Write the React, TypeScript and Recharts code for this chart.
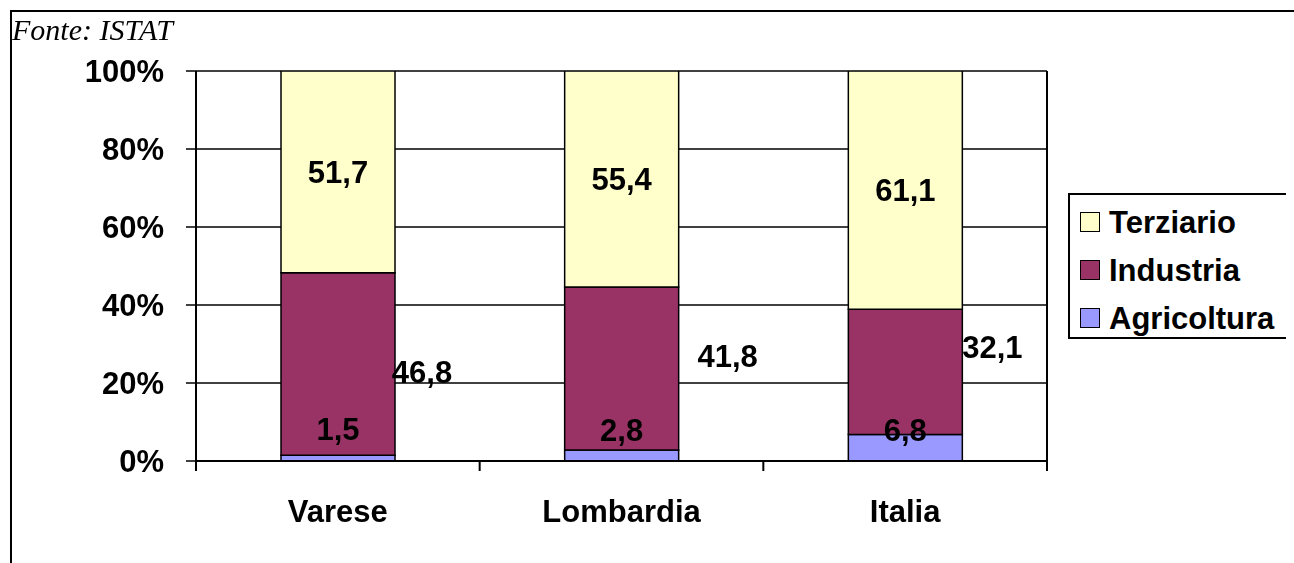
import React from 'react';
import {
  BarChart,
  Bar,
  XAxis,
  YAxis,
  CartesianGrid,
  LabelList,
} from 'recharts';

const categories = ['Varese', 'Lombardia', 'Italia'];
const agricoltura = [1.5, 2.8, 6.8];
const industria = [46.8, 41.8, 32.1];
const terziario = [51.7, 55.4, 61.1];
const yTicks = [0, 20, 40, 60, 80, 100];

const series = [
  { key: 'agricoltura', name: 'Agricoltura', color: '#9999FF' },
  { key: 'industria', name: 'Industria', color: '#993366' },
  { key: 'terziario', name: 'Terziario', color: '#FFFFCC' },
];

const data = categories.map((name, i) => ({
  name,
  agricoltura: agricoltura[i],
  industria: industria[i],
  terziario: terziario[i],
}));

const FONT = "'Liberation Sans', Arial, sans-serif";
const FONT_SIZE = 31;

// label nudges (dx, dy) from the centre of each segment, per category
const labelShift: Record<string, [number, number][]> = {
  agricoltura: [[0, -29], [0, -26], [0, -18]],
  industria: [[84, 8], [106, -13], [87, -25]],
  terziario: [[0, 0], [0, 0], [0, 0]],
};

const fmt = (v: number) => v.toFixed(1).replace('.', ',');

const segmentLabel = (key: string) => (props: any) => {
  const { x, y, width, height, value, index } = props;
  const [dx, dy] = labelShift[key][index] || [0, 0];
  const cx = Number(x) + Number(width) / 2 + dx;
  const cy = Number(y) + Number(height) / 2 + dy;
  return (
    <text
      x={cx}
      y={cy + FONT_SIZE * 0.358}
      textAnchor="middle"
      fontFamily={FONT}
      fontSize={FONT_SIZE}
      fontWeight="bold"
      fill="#000"
    >
      {fmt(Number(value))}
    </text>
  );
};

// category label plus the boundary tick marks between categories
const CategoryTick = (props: any) => {
  const { x, y, payload, index } = props;
  const half = payload?.offset ?? 141.8;
  return (
    <g>
      <line x1={x - half} x2={x - half} y1={y} y2={y + 10} stroke="#000" strokeWidth={2} />
      {index === categories.length - 1 && (
        <line x1={x + half} x2={x + half} y1={y} y2={y + 10} stroke="#000" strokeWidth={2} />
      )}
      <text
        x={x}
        y={y + 61}
        textAnchor="middle"
        fontFamily={FONT}
        fontSize={FONT_SIZE}
        fontWeight="bold"
        fill="#000"
      >
        {payload.value}
      </text>
    </g>
  );
};

const Legend = () => (
  <div
    style={{
      position: 'absolute',
      left: 1060,
      top: 185,
      width: 220,
      height: 146,
      boxSizing: 'border-box',
      border: '2px solid #000',
      background: '#fff',
      paddingTop: 3,
      paddingLeft: 10,
    }}
  >
    {[...series].reverse().map((s) => (
      <div
        key={s.key}
        style={{ display: 'flex', alignItems: 'center', height: 48 }}
      >
        <div
          style={{
            width: 20,
            height: 20,
            boxSizing: 'border-box',
            border: '1.5px solid #000',
            background: s.color,
            marginRight: 9,
          }}
        />
        <span
          style={{
            fontFamily: FONT,
            fontSize: FONT_SIZE,
            fontWeight: 'bold',
            lineHeight: `${FONT_SIZE}px`,
            color: '#000',
          }}
        >
          {s.name}
        </span>
      </div>
    ))}
  </div>
);

export default function App() {
  return (
    <div style={{ position: 'relative', width: 1280, height: 547, background: '#fff' }}>
      {/* outer frame: only the top and left edges fall inside the page */}
      <div
        style={{
          position: 'fixed',
          left: 10,
          top: 10,
          width: 1284,
          height: 553,
          boxSizing: 'border-box',
          borderTop: '2px solid #000',
          borderLeft: '2px solid #000',
          pointerEvents: 'none',
        }}
      />
      <div
        style={{
          position: 'absolute',
          left: 4,
          top: 7,
          fontFamily: "'Liberation Serif', 'Times New Roman', serif",
          fontStyle: 'italic',
          fontSize: 30,
          lineHeight: '30px',
          color: '#000',
        }}
      >
        Fonte: ISTAT
      </div>
      <div style={{ position: 'absolute', left: 0, top: 0 }}>
        <BarChart
          width={1280}
          height={547}
          data={data}
          margin={{ top: 63, right: 240, bottom: 34, left: 0 }}
          barSize={114}
        >
          <CartesianGrid
            vertical={false}
            stroke="#000"
            strokeWidth={1.5}
            strokeOpacity={1}
          />
          <XAxis
            dataKey="name"
            height={60}
            axisLine={{ stroke: '#000', strokeWidth: 2 }}
            tickLine={false}
            tickSize={0}
            tickMargin={0}
            tick={<CategoryTick />}
            interval={0}
          />
          <YAxis
            width={188}
            domain={[0, 100]}
            ticks={yTicks}
            allowDataOverflow
            tickFormatter={(v) => `${v}%`}
            axisLine={{ stroke: '#000', strokeWidth: 2 }}
            tickLine={{ stroke: '#000', strokeWidth: 1.5 }}
            tickSize={10}
            tickMargin={22}
            tick={{
              fill: '#000',
              fontFamily: FONT,
              fontSize: FONT_SIZE,
              fontWeight: 'bold',
            }}
          />
          <YAxis
            yAxisId="edge"
            orientation="right"
            width={1}
            domain={[0, 100]}
            tick={false}
            tickLine={false}
            axisLine={{ stroke: '#000', strokeWidth: 2 }}
          />
          {series.map((s) => (
            <Bar
              key={s.key}
              dataKey={s.key}
              name={s.name}
              stackId="settori"
              fill={s.color}
              stroke="#000"
              strokeWidth={1.5}
              isAnimationActive={false}
            >
              <LabelList dataKey={s.key} content={segmentLabel(s.key)} />
            </Bar>
          ))}
        </BarChart>
      </div>
      <Legend />
    </div>
  );
}
